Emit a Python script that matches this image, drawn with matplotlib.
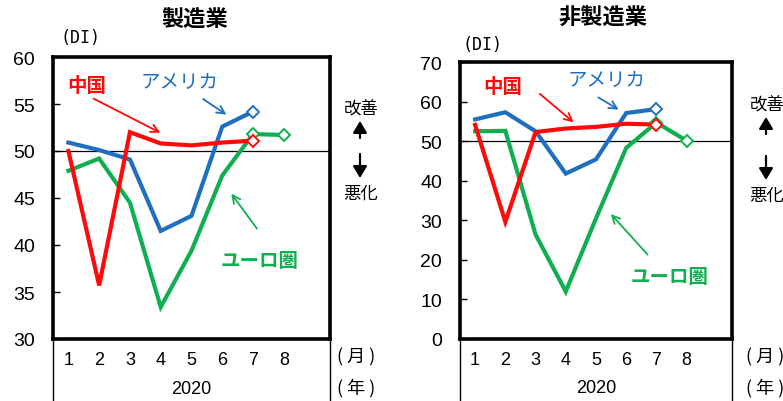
import matplotlib
matplotlib.use("Agg")
import matplotlib.pyplot as plt
from matplotlib.lines import Line2D
from matplotlib.patches import FancyArrowPatch

plt.rcParams['font.family'] = ['Liberation Sans', 'Noto Sans CJK JP', 'DejaVu Sans']

JP = ['Noto Sans CJK JP', 'DejaVu Sans']

months = [1, 2, 3, 4, 5, 6, 7, 8]
month_labels = ["1", "2", "3", "4", "5", "6", "7", "8"]
year_label = "2020"

# Manufacturing PMI
mfg_china = [50.0, 35.7, 52.0, 50.8, 50.6, 50.9, 51.1]
mfg_usa = [50.9, 50.1, 49.1, 41.5, 43.1, 52.6, 54.2]
mfg_euro = [47.9, 49.2, 44.5, 33.4, 39.4, 47.4, 51.8, 51.7]

# Non-manufacturing PMI
nonmfg_china = [54.1, 29.6, 52.3, 53.2, 53.6, 54.4, 54.2]
nonmfg_usa = [55.5, 57.3, 52.5, 41.8, 45.4, 57.1, 58.1]
nonmfg_euro = [52.5, 52.6, 26.4, 12.0, 30.5, 48.3, 54.7, 50.1]

RED = "#FF0A0A"
BLUE = "#1F6FC0"
GREEN = "#0FAF4F"

W, H = 783, 402
fig = plt.figure(figsize=(W / 100, H / 100), dpi=100)
fig.patch.set_facecolor("white")


def px_axes(x0, y0, x1, y1):
    return fig.add_axes([x0 / W, 1 - y1 / H, (x1 - x0) / W, (y1 - y0) / H])


def fig_text(x, y, s, **kw):
    fig.text(x / W, 1 - y / H, s, **kw)


def fig_arrow(x, y_from, y_to):
    fig.add_artist(FancyArrowPatch(
        (x / W, 1 - y_from / H), (x / W, 1 - y_to / H),
        transform=fig.transFigure, arrowstyle="-|>,head_length=0.5,head_width=0.3",
        mutation_scale=14, color="black", lw=1.6, shrinkA=0, shrinkB=0))


def draw_panel(ax, china, usa, euro, ylim, yticks, ann):
    ax.set_xlim(0.5, 9.5)
    ax.set_ylim(*ylim)
    ax.axhline(50, color="black", lw=0.9, zorder=1)
    series = [(euro, GREEN, 2), (usa, BLUE, 3), (china, RED, 4)]
    for vals, col, z in series:
        xs = months[:len(vals)]
        ax.plot(xs, vals, color=col, lw=3.0, zorder=z, solid_joinstyle="miter")
    # latest readings shown with open diamonds
    for vals, col, z, n in [(euro, GREEN, 2, 2), (usa, BLUE, 3, 1), (china, RED, 4, 1)]:
        xs = months[:len(vals)]
        ax.plot(xs[-n:], vals[-n:], ls="none", marker="D", ms=6.5,
                mfc="white", mec=col, mew=1.4, zorder=z + 5)
    for side in ax.spines.values():
        side.set_linewidth(2.6)
        side.set_color("black")
    ax.set_yticks(yticks)
    ax.set_yticklabels([str(v) for v in yticks], fontsize=14)
    ax.tick_params(axis="y", direction="in", length=5, width=1, pad=13)
    ax.set_xticks(months)
    ax.set_xticklabels(month_labels, fontsize=13)
    ax.tick_params(axis="x", length=0, pad=9)
    # bracket lines under the axis
    for xa in (0, 1):
        ax.add_line(Line2D([xa, xa], [0, -0.3], transform=ax.transAxes,
                           color="black", lw=1.0, clip_on=False))
    ax.text(0.5, -0.175, year_label, transform=ax.transAxes, ha="center",
            va="center", fontsize=13)
    for label, col, txy, a0, a1, fs, bold in ann:
        ax.text(*txy, label, color=col, fontsize=fs, ha="center", va="center",
                family=JP, fontweight="bold" if bold else "normal", zorder=10)
        ax.annotate("", xy=a1, xytext=a0,
                    arrowprops=dict(arrowstyle="->", color=col, lw=1.3,
                                    mutation_scale=14), zorder=10)


ax1 = px_axes(53, 58, 330, 340)
draw_panel(ax1, mfg_china, mfg_usa, mfg_euro, (30, 60), [30, 35, 40, 45, 50, 55, 60], [
    ("中国", RED, (1.6, 57.0), (1.74, 55.7), (4.07, 51.8), 14, True),
    ("アメリカ", BLUE, (4.6, 57.4), (5.30, 55.7), (6.21, 53.7), 14, False),
    ("ユーロ圏", GREEN, (7.2, 38.3), (7.18, 41.5), (6.24, 45.7), 14, True),
])

ax2 = px_axes(460, 63, 732, 340)
draw_panel(ax2, nonmfg_china, nonmfg_usa, nonmfg_euro, (0, 70), [0, 10, 20, 30, 40, 50, 60, 70], [
    ("中国", RED, (1.9, 63.7), (3.07, 62.4), (4.33, 54.3), 14, True),
    ("アメリカ", BLUE, (5.35, 65.5), (5.0, 61.4), (5.83, 57.6), 14, False),
    ("ユーロ圏", GREEN, (7.45, 15.7), (6.77, 20.8), (5.43, 32.1), 14, True),
])

# titles and side notes
fig_text(195, 20, "製造業", family=JP, fontsize=16, fontweight="bold", ha="center", va="center")
fig_text(603, 18, "非製造業", family=JP, fontsize=16, fontweight="bold", ha="center", va="center")
fig_text(81, 38, "(DI)", family="DejaVu Sans Mono", fontsize=12, ha="center", va="center")
fig_text(482, 45, "(DI)", family="DejaVu Sans Mono", fontsize=12, ha="center", va="center")

for cx, y_up, y_dn in [(361, 110, 194), (767, 106, 196)]:
    fig_text(cx, y_up, "改善", family=JP, fontsize=12.5, ha="center", va="center")
    fig_text(cx, y_dn, "悪化", family=JP, fontsize=12.5, ha="center", va="center")
    fig_arrow(cx - 1, y_up + 29, y_up + 12)
    fig_arrow(cx - 1, y_dn - 39, y_dn - 15)

for x0 in (356, 765):
    fig_text(x0, 357, "( 月 )", family=JP, fontsize=13, ha="center", va="center")
    fig_text(x0, 388, "( 年 )", family=JP, fontsize=13, ha="center", va="center")

fig.savefig("out.png", dpi=100, facecolor="white")
